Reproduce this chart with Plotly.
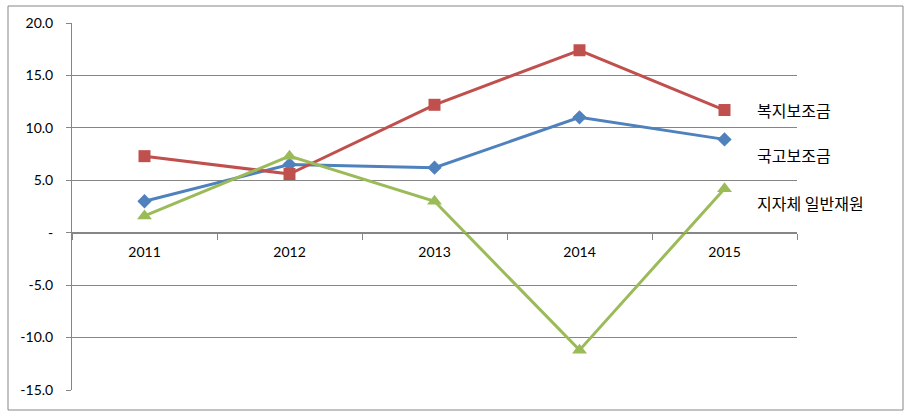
import plotly.graph_objects as go

years = ["2011", "2012", "2013", "2014", "2015"]
welfare = [7.3, 5.6, 12.2, 17.4, 11.7]        # 복지보조금
national = [3.0, 6.5, 6.2, 11.0, 8.9]         # 국고보조금
local = [1.6, 7.3, 3.0, -11.2, 4.2]           # 지자체 일반재원
names = ["복지보조금", "국고보조금", "지자체 일반재원"]
ytick_vals = [-15, -10, -5, 0, 5, 10, 15, 20]
ytick_text = ["-15.0", "-10.0", "-5.0", "-", "5.0", "10.0", "15.0", "20.0"]

L, R, T, B = 72, 115, 23, 26
W, H = 912, 416
pw, ph = W - L - R, H - T - B

fig = go.Figure()
fig.add_trace(go.Scatter(x=years, y=national, mode="lines+markers", name=names[1],
                         line=dict(color="#4F81BD", width=3),
                         marker=dict(symbol="diamond", size=11, color="#4F81BD")))
fig.add_trace(go.Scatter(x=years, y=welfare, mode="lines+markers", name=names[0],
                         line=dict(color="#C0504D", width=3),
                         marker=dict(symbol="square", size=12, color="#C0504D")))
fig.add_trace(go.Scatter(x=years, y=local, mode="lines+markers", name=names[2],
                         line=dict(color="#9BBB59", width=3),
                         marker=dict(symbol="triangle-up", size=13, color="#9BBB59")))

label_px = [110, 155, 203]
for nm, py in zip(names, label_px):
    fig.add_annotation(x=(755 - L) / pw, xref="paper", y=(H - B - py) / ph, yref="paper",
                       text=nm, showarrow=False, xanchor="left", yanchor="middle",
                       font=dict(family="Noto Sans CJK KR", size=16, color="#000000"))

fig.add_shape(type="rect", xref="paper", yref="paper",
              x0=(8 - L) / pw, x1=(903 - L) / pw, y0=(H - B - 410) / ph, y1=(H - B - 6) / ph,
              line=dict(color="#868686", width=1), fillcolor="rgba(0,0,0,0)", layer="below")

fig.update_layout(
    width=W, height=H, margin=dict(l=L, r=R, t=T, b=B),
    plot_bgcolor="white", paper_bgcolor="white", showlegend=False,
    font=dict(family="Lato, Noto Sans CJK KR", size=14, color="#000000"),
    xaxis=dict(type="category", anchor="free", position=15 / 35, showline=True,
               linecolor="#868686", linewidth=1, ticks="outside", tickson="boundaries",
               ticklen=6, tickcolor="#868686", showgrid=False, range=[-0.5, 4.5],
               ticklabelstandoff=6),
    yaxis=dict(range=[-15, 20], tickvals=ytick_vals, ticktext=ytick_text,
               showgrid=True, gridcolor="#868686", gridwidth=1, zeroline=False,
               showline=True, linecolor="#868686", linewidth=1, ticks="outside",
               ticklen=5, tickcolor="#868686", ticklabelstandoff=10),
)

fig.write_html("out.html", config={"displayModeBar": False},
               post_script="document.body.style.margin='0';")
